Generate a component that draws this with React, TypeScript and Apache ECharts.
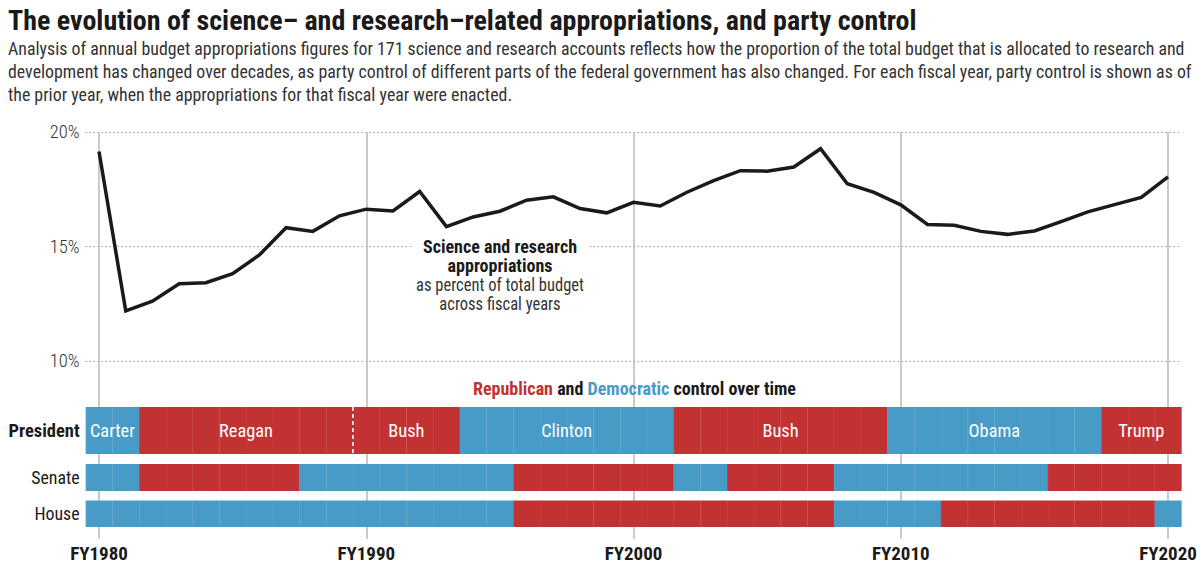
import React, { useEffect, useRef } from "react";
import * as echarts from "echarts";

const FONT = '"Roboto Condensed", "Liberation Sans Narrow", "DejaVu Sans Condensed", "Noto Sans", sans-serif';

const years = [
  1980, 1981, 1982, 1983, 1984, 1985, 1986, 1987, 1988, 1989,
  1990, 1991, 1992, 1993, 1994, 1995, 1996, 1997, 1998, 1999,
  2000, 2001, 2002, 2003, 2004, 2005, 2006, 2007, 2008, 2009,
  2010, 2011, 2012, 2013, 2014, 2015, 2016, 2017, 2018, 2019, 2020,
];

// Science and research appropriations as percent of total budget
const sharePct = [
  19.15, 12.19, 12.61, 13.37, 13.42, 13.81, 14.63, 15.82, 15.66, 16.34,
  16.63, 16.55, 17.4, 15.87, 16.29, 16.54, 17.02, 17.17, 16.66, 16.47,
  16.93, 16.77, 17.37, 17.88, 18.31, 18.29, 18.47, 19.27, 17.74, 17.36,
  16.82, 15.96, 15.93, 15.66, 15.53, 15.68, 16.09, 16.51, 16.83, 17.14, 18.04,
];

// Party control per fiscal year (D = Democratic, R = Republican)
const presidentParty = [
  "D", "D", "R", "R", "R", "R", "R", "R", "R", "R",
  "R", "R", "R", "R", "D", "D", "D", "D", "D", "D",
  "D", "D", "R", "R", "R", "R", "R", "R", "R", "R",
  "D", "D", "D", "D", "D", "D", "D", "D", "R", "R", "R",
];
const senateParty = [
  "D", "D", "R", "R", "R", "R", "R", "R", "D", "D",
  "D", "D", "D", "D", "D", "D", "R", "R", "R", "R",
  "R", "R", "D", "D", "R", "R", "R", "R", "D", "D",
  "D", "D", "D", "D", "D", "D", "R", "R", "R", "R", "R",
];
const houseParty = [
  "D", "D", "D", "D", "D", "D", "D", "D", "D", "D",
  "D", "D", "D", "D", "D", "D", "R", "R", "R", "R",
  "R", "R", "R", "R", "R", "R", "R", "R", "D", "D",
  "D", "D", "R", "R", "R", "R", "R", "R", "R", "R", "D",
];

const presidents = ["Carter", "Reagan", "Bush", "Clinton", "Bush", "Obama", "Trump"];
const termFirstYear = [1980, 1982, 1990, 1994, 2002, 2010, 2018];
const termLastYear = [1981, 1989, 1993, 2001, 2009, 2017, 2020];

const rowNames = ["President", "Senate", "House"];
const xTickLabels = ["FY1980", "FY1990", "FY2000", "FY2010", "FY2020"];
const yTickLabels = ["10%", "15%", "20%"];

const titleText =
  "The evolution of science\u2013 and research\u2013related appropriations, and party control";
const subtitleLines = [
  "Analysis of annual budget appropriations figures for 171 science and research accounts reflects how the proportion of the total budget that is allocated to research and",
  "development has changed over decades, as party control of different parts of the federal government has also changed. For each fiscal year, party control is shown as of",
  "the prior year, when the appropriations for that fiscal year were enacted.",
];
const noteBold = ["Science and research", "appropriations"];
const noteRegular = ["as percent of total budget", "across fiscal years"];

const RED = "#c33232";
const BLUE = "#489bc6";

export default function App() {
  const ref = useRef<HTMLDivElement>(null);

  useEffect(() => {
    if (!ref.current) return;
    const chart = echarts.init(ref.current, undefined, { renderer: "svg" });

    const cv = document.createElement("canvas").getContext("2d") as CanvasRenderingContext2D;
    const textWidth = (t: string, font: string) => {
      cv.font = font;
      return cv.measureText(t).width;
    };
    const fit = (t: string, font: string, target: number) =>
      Math.min(1, target / Math.max(1, textWidth(t, font)));

    const fTitle = `bold 28px ${FONT}`;
    const fSub = `18.5px ${FONT}`;
    const fBold18 = `bold 18px ${FONT}`;
    const fReg18 = `18px ${FONT}`;

    const sTitle = fit(titleText, fTitle, 932);
    const sSub = fit(subtitleLines[0], fSub, 1177);
    const sNoteB = fit(noteBold[0], fBold18, 154);
    const sNoteR = fit(noteRegular[0], fReg18, 168);
    const sBold = sTitle;
    const sReg = sSub;

    const LEFT = 85.64;
    const WIDTH = 1095.72;
    const rowTops = [407, 464, 500.5];
    const rowHeights = [47, 27, 26.5];

    const cellItem = (params: any, api: any) => {
      const yr = api.value(0);
      const party = api.value(2);
      const p0 = api.coord([yr - 0.5, 0]);
      const p1 = api.coord([yr + 0.5, 0]);
      const cs = params.coordSys;
      const fill = party === 1 ? RED : BLUE;
      return {
        type: "group",
        children: [
          {
            type: "rect",
            shape: { x: p0[0], y: cs.y, width: p1[0] - p0[0] + 0.3, height: cs.height },
            style: { fill },
          },
          {
            type: "line",
            shape: { x1: p0[0] + 0.5, y1: cs.y, x2: p0[0] + 0.5, y2: cs.y + cs.height },
            style: { stroke: "rgba(255,255,255,0.045)", lineWidth: 1 },
          },
        ],
      };
    };

    const rowData = (arr: string[]) =>
      years.map((y, i) => [y, 0, arr[i] === "R" ? 1 : 0]);

    const termData = presidents.map((n, i) => [termFirstYear[i], termLastYear[i], i]);

    const termItem = (params: any, api: any) => {
      const i = params.dataIndex;
      const a = api.coord([termFirstYear[i] - 0.5, 0]);
      const b = api.coord([termLastYear[i] + 0.5, 0]);
      const cs = params.coordSys;
      const cx = (a[0] + b[0]) / 2;
      const cy = cs.y + cs.height / 2;
      const children: any[] = [
        {
          type: "text",
          x: cx,
          y: cy,
          scaleX: sReg,
          style: {
            text: presidents[i],
            x: 0,
            y: 0,
            align: "center",
            verticalAlign: "middle",
            fill: "#ffffff",
            font: `19px ${FONT}`,
          },
        },
      ];
      if (i > 0) {
        const prevIdx = years.indexOf(termLastYear[i - 1]);
        const curIdx = years.indexOf(termFirstYear[i]);
        if (presidentParty[prevIdx] === presidentParty[curIdx]) {
          children.push({
            type: "line",
            shape: { x1: a[0], y1: cs.y, x2: a[0], y2: cs.y + cs.height },
            style: { stroke: "#ffffff", lineWidth: 1.5, lineDash: [4, 3] },
          });
        }
      }
      return { type: "group", children };
    };

    const rowGrid = (k: number) => ({
      left: LEFT,
      width: WIDTH,
      top: rowTops[k],
      height: rowHeights[k],
      outerBoundsMode: "none",
      containLabel: false,
    });

    const hiddenYearAxis = (gridIndex: number) => ({
      type: "value",
      gridIndex,
      min: 1979.5,
      max: 2020.5,
      show: false,
    });

    const rowYAxis = (gridIndex: number) => ({
      type: "value",
      gridIndex,
      min: 0,
      max: 1,
      show: false,
    });

    const rowLabelGraphics = rowNames.map((name, k) => ({
      type: "text",
      x: LEFT - 6,
      y: rowTops[k] + rowHeights[k] / 2,
      scaleX: k === 0 ? sBold : sReg,
      style: {
        text: name,
        x: 0,
        y: 0,
        align: "right",
        verticalAlign: "middle",
        fill: "#1a1a1a",
        font: k === 0 ? `bold 18.5px ${FONT}` : `18.5px ${FONT}`,
      },
    }));

    const legendFont = `bold 18px ${FONT}`;
    const legendPlain = "Republican and Democratic control over time";
    const sLegend = fit(legendPlain, legendFont, 323);

    const option: any = {
      animation: false,
      backgroundColor: "#ffffff",
      grid: [
        { left: 99, width: 1069, top: 132, height: 407, outerBoundsMode: "none", containLabel: false },
        { left: LEFT, width: WIDTH, top: 132, height: 229, outerBoundsMode: "none", containLabel: false },
        rowGrid(0),
        rowGrid(1),
        rowGrid(2),
      ],
      xAxis: [
        {
          type: "value",
          gridIndex: 0,
          min: 1980,
          max: 2020,
          interval: 10,
          axisLine: { show: false },
          axisTick: { show: false },
          splitLine: { show: true, lineStyle: { color: "#b8b8b8", width: 1.5, type: "solid" } },
          axisLabel: {
            margin: 5,
            color: "#1a1a1a",
            fontFamily: FONT,
            fontSize: 19,
            fontWeight: "bold",
            formatter: (v: number) => xTickLabels[Math.round((v - 1980) / 10)] ?? "",
          },
        },
        hiddenYearAxis(1),
        hiddenYearAxis(2),
        hiddenYearAxis(3),
        hiddenYearAxis(4),
      ],
      yAxis: [
        { type: "value", gridIndex: 0, min: 0, max: 1, show: false },
        {
          type: "value",
          gridIndex: 1,
          min: 10,
          max: 20,
          interval: 5,
          axisLine: { show: false },
          axisTick: { show: false },
          splitLine: { show: true, lineStyle: { color: "#9a9a9a", width: 1, type: [1.5, 2.5] } },
          axisLabel: {
            margin: 6,
            color: "#333333",
            fontFamily: FONT,
            fontSize: 18.5,
            fontWeight: 300,
            formatter: (v: number) => yTickLabels[Math.round((v - 10) / 5)] ?? "",
          },
        },
        rowYAxis(2),
        rowYAxis(3),
        rowYAxis(4),
      ],
      series: [
        {
          type: "line",
          xAxisIndex: 0,
          yAxisIndex: 0,
          data: [],
          silent: true,
        },
        {
          type: "line",
          xAxisIndex: 1,
          yAxisIndex: 1,
          data: years.map((y, i) => [y, sharePct[i]]),
          showSymbol: false,
          symbol: "none",
          lineStyle: { color: "#1a1a1a", width: 3.5, join: "miter" },
          z: 5,
        },
        {
          type: "custom",
          xAxisIndex: 2,
          yAxisIndex: 2,
          data: rowData(presidentParty),
          renderItem: cellItem,
          encode: { x: 0, y: 1 },
          z: 3,
        },
        {
          type: "custom",
          xAxisIndex: 2,
          yAxisIndex: 2,
          data: termData,
          renderItem: termItem,
          encode: { x: [0, 1] },
          z: 4,
        },
        {
          type: "custom",
          xAxisIndex: 3,
          yAxisIndex: 3,
          data: rowData(senateParty),
          renderItem: cellItem,
          encode: { x: 0, y: 1 },
          z: 3,
        },
        {
          type: "custom",
          xAxisIndex: 4,
          yAxisIndex: 4,
          data: rowData(houseParty),
          renderItem: cellItem,
          encode: { x: 0, y: 1 },
          z: 3,
        },
      ],
      graphic: [
        {
          type: "text",
          x: 8,
          y: 20,
          scaleX: sTitle,
          style: {
            text: titleText,
            x: 0,
            y: 0,
            verticalAlign: "middle",
            fill: "#1a1a1a",
            font: fTitle,
          },
        },
        ...subtitleLines.map((line, k) => ({
          type: "text",
          x: 8,
          y: 48.5 + k * 23,
          scaleX: sSub,
          style: {
            text: line,
            x: 0,
            y: 0,
            verticalAlign: "middle",
            fill: "#333333",
            font: fSub,
          },
        })),
        {
          type: "rect",
          z: 1,
          shape: { x: 412, y: 237, width: 175, height: 19 },
          style: { fill: "#ffffff" },
        },
        ...noteBold.map((line, k) => ({
          type: "text",
          z: 2,
          x: 500,
          y: 246.5 + k * 19.2,
          scaleX: sNoteB,
          style: {
            text: line,
            x: 0,
            y: 0,
            align: "center",
            verticalAlign: "middle",
            fill: "#1a1a1a",
            font: fBold18,
          },
        })),
        ...noteRegular.map((line, k) => ({
          type: "text",
          z: 2,
          x: 500,
          y: 285 + k * 19.2,
          scaleX: sNoteR,
          style: {
            text: line,
            x: 0,
            y: 0,
            align: "center",
            verticalAlign: "middle",
            fill: "#333333",
            font: fReg18,
          },
        })),
        {
          type: "text",
          z: 2,
          x: 634.5,
          y: 388,
          scaleX: sLegend,
          style: {
            text: "{r|Republican} {k|and} {d|Democratic} {k|control over time}",
            x: 0,
            y: 0,
            align: "center",
            verticalAlign: "middle",
            font: legendFont,
            rich: {
              r: { fill: RED, font: legendFont },
              d: { fill: BLUE, font: legendFont },
              k: { fill: "#1a1a1a", font: legendFont },
            },
          },
        },
        ...rowLabelGraphics,
      ],
    };

    chart.setOption(option);
    return () => chart.dispose();
  }, []);

  return (
    <div
      ref={ref}
      style={{ position: "absolute", left: 0, top: 0, width: 1200, height: 587 }}
    />
  );
}
